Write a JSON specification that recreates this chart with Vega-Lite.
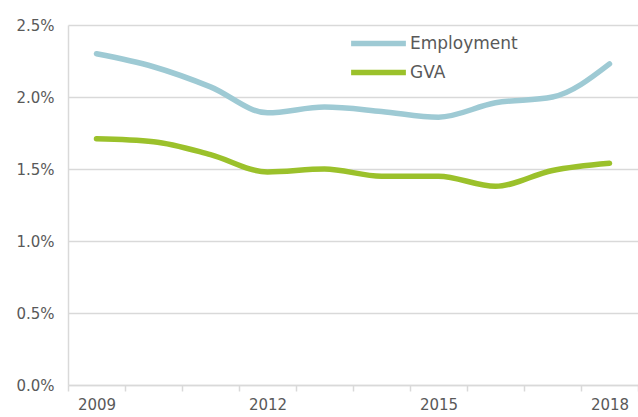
{
  "$schema": "https://vega.github.io/schema/vega-lite/v6.json",
  "width": 570,
  "height": 360,
  "autosize": {"type": "none"},
  "padding": {"left": 68, "top": 25, "right": 0, "bottom": 32},
  "background": "white",
  "config": {
    "view": {"stroke": null},
    "font": "DejaVu Sans",
    "axis": {"labelFont": "DejaVu Sans", "labelColor": "#595959", "labelFontSize": 15}
  },
  "data": {
    "values": [
      {"year": "2009", "series": "Employment", "value": 0.0230},
      {"year": "2010", "series": "Employment", "value": 0.0221},
      {"year": "2011", "series": "Employment", "value": 0.0207},
      {"year": "2012", "series": "Employment", "value": 0.0189},
      {"year": "2013", "series": "Employment", "value": 0.0193},
      {"year": "2014", "series": "Employment", "value": 0.0190},
      {"year": "2015", "series": "Employment", "value": 0.0186},
      {"year": "2016", "series": "Employment", "value": 0.0196},
      {"year": "2017", "series": "Employment", "value": 0.0200},
      {"year": "2018", "series": "Employment", "value": 0.0223},
      {"year": "2009", "series": "GVA", "value": 0.0171},
      {"year": "2010", "series": "GVA", "value": 0.0169},
      {"year": "2011", "series": "GVA", "value": 0.0160},
      {"year": "2012", "series": "GVA", "value": 0.0148},
      {"year": "2013", "series": "GVA", "value": 0.0150},
      {"year": "2014", "series": "GVA", "value": 0.0145},
      {"year": "2015", "series": "GVA", "value": 0.0145},
      {"year": "2016", "series": "GVA", "value": 0.0138},
      {"year": "2017", "series": "GVA", "value": 0.0149},
      {"year": "2018", "series": "GVA", "value": 0.0154}
    ]
  },
  "mark": {"type": "line", "interpolate": "monotone", "strokeWidth": 5.5, "strokeCap": "round"},
  "encoding": {
    "x": {
      "field": "year", "type": "ordinal",
      "scale": {"type": "band", "paddingInner": 0, "paddingOuter": 0},
      "axis": {
        "title": null, "labelAngle": 0, "tickBand": "extent",
        "domainColor": "#d9d9d9", "domainWidth": 1.5,
        "tickColor": "#d9d9d9", "tickSize": 6, "tickWidth": 1.5,
        "labelPadding": 6, "grid": false,
        "labelExpr": "(datum.label == '2009' || datum.label == '2012' || datum.label == '2015' || datum.label == '2018') ? datum.label : ''"
      }
    },
    "y": {
      "field": "value", "type": "quantitative",
      "scale": {"domain": [0, 0.025], "nice": false},
      "axis": {
        "title": null, "format": ".1%", "values": [0, 0.005, 0.01, 0.015, 0.02, 0.025],
        "ticks": false, "labelPadding": 14,
        "domainColor": "#d9d9d9", "domainWidth": 1.5,
        "gridColor": "#d9d9d9", "gridWidth": 1.5
      }
    },
    "color": {
      "field": "series", "type": "nominal",
      "scale": {"domain": ["Employment", "GVA"], "range": ["#9ecad4", "#9bc12b"]},
      "legend": {
        "title": null, "orient": "none", "legendX": 280, "legendY": 4,
        "symbolType": "stroke", "symbolStrokeWidth": 5.5, "symbolSize": 3000,
        "clipHeight": 29, "rowPadding": 0,
        "labelFontSize": 17, "labelColor": "#595959", "labelFont": "DejaVu Sans",
        "labelOffset": 1
      }
    }
  }
}
